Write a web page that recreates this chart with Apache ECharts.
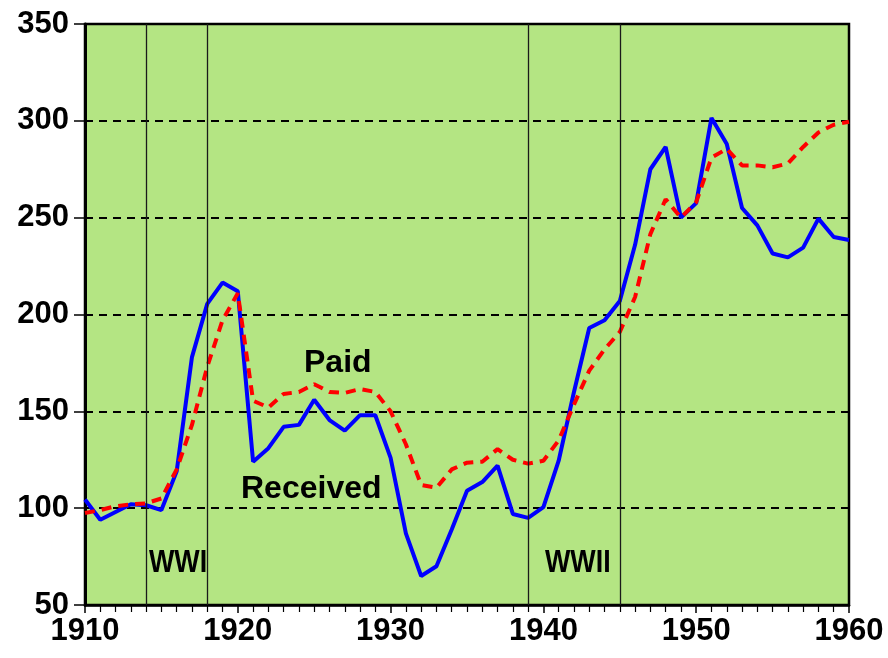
<!DOCTYPE html>
<html>
<head>
<meta charset="utf-8">
<script src="https://cdn.jsdelivr.net/npm/echarts@6/dist/echarts.min.js"></script>
<style>html,body{margin:0;padding:0;background:#fff}#c{width:888px;height:658px}</style>
</head>
<body>
<div id="c"></div>
<script>
var years = [1910,1911,1912,1913,1914,1915,1916,1917,1918,1919,1920,1921,1922,1923,1924,1925,1926,1927,1928,1929,1930,1931,1932,1933,1934,1935,1936,1937,1938,1939,1940,1941,1942,1943,1944,1945,1946,1947,1948,1949,1950,1951,1952,1953,1954,1955,1956,1957,1958,1959,1960];
var received = [104.5,94,98,102,101.5,99,119,178,205.5,216.5,212,124,131,142,143,156,145.5,140,148,148,126,87,65,70,89,109,113.5,122,97,95,100.5,124.5,160,193,197,207,236,275,286.5,250,257.5,301.5,288,255,246,231.5,229.5,234.5,249.5,240,238.5];
var paid = [97.5,99,101,102,102.5,105,120,143,173,197,211,155.5,152,159,160,164,160,159.5,161.5,160,150,133,112,110.5,120,123.5,124,130.5,125,123,124.5,135,153.5,171,182,191,209,241.5,259.5,250,258,281,285.5,277,277,276,278,286.5,294,298,299.5];
var warLines = [1914, 1918, 1939, 1945];
var yTicks = [50,100,150,200,250,300,350];
var xTicks = [1910,1920,1930,1940,1950,1960];

var chart = echarts.init(document.getElementById('c'));
var fontFam = '"Liberation Sans", Arial, sans-serif';
function pairs(v){ return years.map(function(y,i){ return [y, v[i]]; }); }

chart.setOption({
  animation: false,
  grid: {left:85, right:39, top:24, bottom:53, outerBoundsMode:'none', containLabel:false, show:true, backgroundColor:'#B4E583', borderColor:'#000', borderWidth:2.5},
  xAxis: {
    type:'value', min:xTicks[0], max:xTicks[xTicks.length-1], interval:10,
    axisLine:{show:true, lineStyle:{color:'#000', width:2.5}},
    axisTick:{show:true, length:8, lineStyle:{color:'#000', width:1.5}},
    minorTick:{show:true, splitNumber:10, length:7, lineStyle:{color:'#000', width:1.2}},
    splitLine:{show:false},
    axisLabel:{color:'#000', fontSize:31, fontWeight:'bold', fontFamily:fontFam, margin:11, formatter:function(v){return String(v);}}
  },
  yAxis: {
    type:'value', min:yTicks[0], max:yTicks[yTicks.length-1], interval:50,
    axisLine:{show:true, lineStyle:{color:'#000', width:3}},
    axisTick:{show:true, length:11, lineStyle:{color:'#000', width:1.5}},
    splitLine:{show:true, lineStyle:{color:'#000', width:1.8, type:[8,6]}},
    axisLabel:{color:'#000', fontSize:31, fontWeight:'bold', fontFamily:fontFam, margin:16}
  },
  series: [
    {
      name:'Received', type:'line', data:pairs(received), symbol:'none',
      lineStyle:{color:'#0000FF', width:4}, z:3,
      markLine:{silent:true, symbol:'none', label:{show:false},
        lineStyle:{color:'#1a1a1a', width:1.3, type:'solid'},
        data: warLines.map(function(y){ return {xAxis:y}; })}
    },
    {
      name:'Paid', type:'line', data:pairs(paid), symbol:'none',
      lineStyle:{color:'#FF0000', width:4, type:[10,7]}, z:4
    }
  ],
  graphic: [
    {type:'text', left:304, top:347, z:10, style:{text:'Paid', fontSize:32, fontWeight:'bold', fontFamily:fontFam, fill:'#000'}},
    {type:'text', left:241, top:473, z:10, style:{text:'Received', fontSize:32, fontWeight:'bold', fontFamily:fontFam, fill:'#000'}},
    {type:'text', x:149, y:547, scaleX:0.84, z:10, style:{text:'WWI', fontSize:32, fontWeight:'bold', fontFamily:fontFam, fill:'#000'}},
    {type:'text', x:545, y:547, scaleX:0.84, z:10, style:{text:'WWII', fontSize:32, fontWeight:'bold', fontFamily:fontFam, fill:'#000'}}
  ]
});
</script>
</body>
</html>
